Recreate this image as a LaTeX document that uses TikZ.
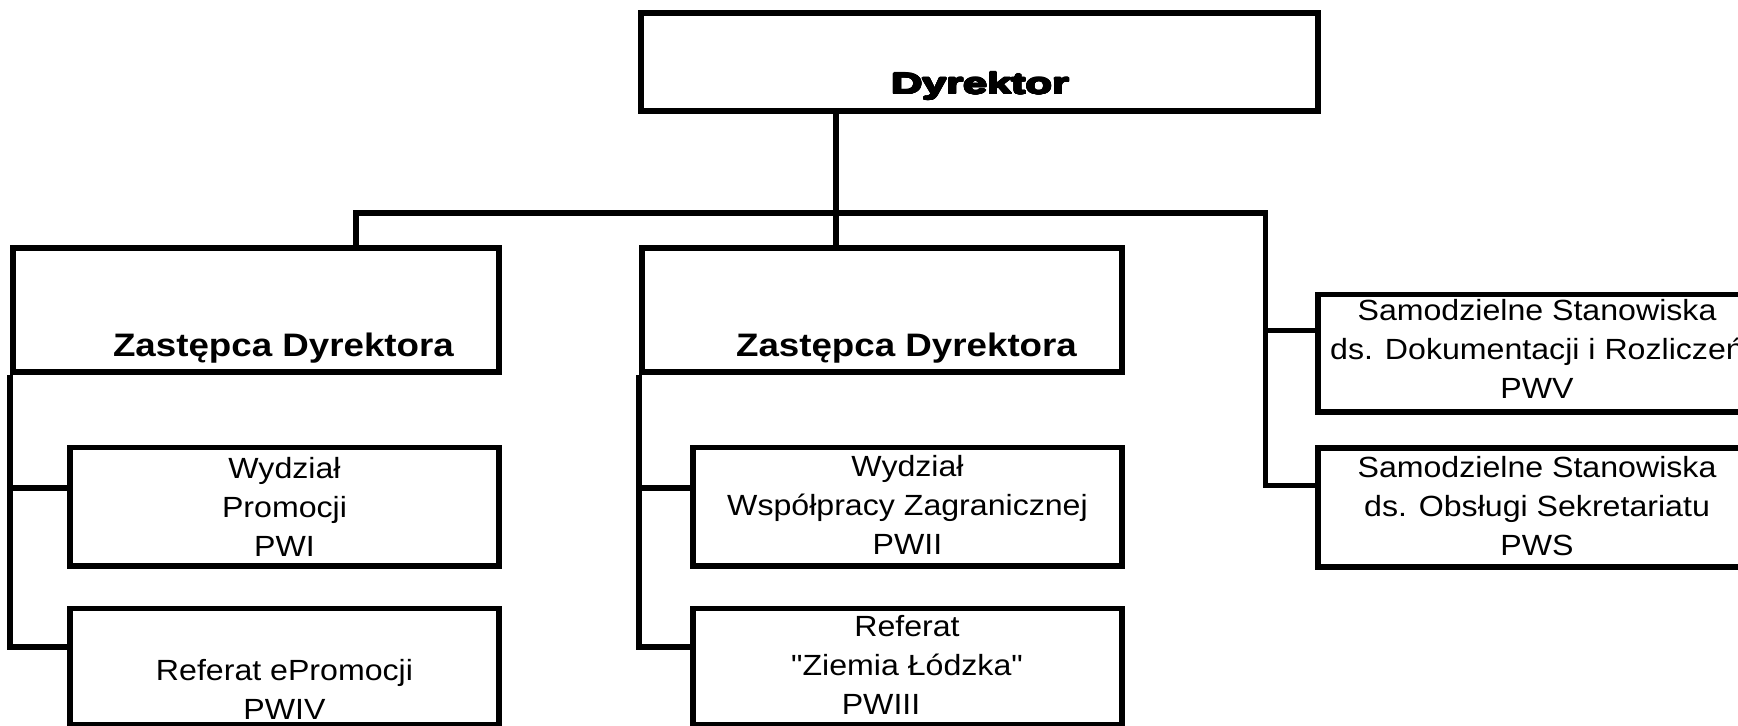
\documentclass[tikz,border=0pt]{standalone}
\usepackage{fontspec}
\usepackage{contour}
\newfontfamily\bodyfont[FakeStretch=1.1]{Liberation Sans}
\newfontfamily\headfont[FakeStretch=1.13]{Liberation Sans}
\newfontfamily\topfont[FakeStretch=1.48]{Liberation Sans}
\contourlength{0.5pt}
\contournumber{24}

\tikzset{
    unit/.style={draw, line width=2.9pt, inner sep=0pt},
    lbl/.style={inner sep=0pt, align=center, font=\bodyfont\fontsize{14.6pt}{19.5pt}\selectfont},
    head/.style={inner sep=0pt, anchor=base, font=\headfont\bfseries\fontsize{16.25pt}{19.5pt}\selectfont},
}

\begin{document}
\begin{tikzpicture}[x=0.5pt, y=-0.5pt, line width=2.9pt]
    \fill[white] (0,0) rectangle (1738,726);
    \clip (0,0) rectangle (1738,726);

    \node[anchor=base, inner sep=0pt, font=\topfont\bfseries\fontsize{14.6pt}{17pt}\selectfont] (dyr-t) at (980,94) {\contour{black}{Dyrektor}};
    \node[head] (zl-t) at (283.5,357) {Zastępca Dyrektora};
    \node[head] (zm-t) at (906.5,357) {Zastępca Dyrektora};
    \node[lbl] (pwi-t) at (284.5,506.8) {Wydział\\Promocji\\PWI};
    \node[lbl] (pwiv-t) at (284.5,689) {Referat ePromocji\\PWIV};
    \node[lbl] (pwii-t) at (907.5,505.3) {Wydział\\Współpracy Zagranicznej\\PWII};
    \node[lbl] (pwiii-t) at (907,665.3) {Referat\\"Ziemia Łódzka"\\PWIII\hspace*{26pt}};
    \node[lbl] (pwv-t) at (1537,349.3) {Samodzielne Stanowiska\\ds. Dokumentacji i Rozliczeń\\PWV};
    \node[lbl] (pws-t) at (1537,506.3) {Samodzielne Stanowiska\\ds. Obsługi Sekretariatu\\PWS};

    \node[unit, minimum width=338.5pt, minimum height=49pt] (dyr) at (979.5,62) {};
    \node[unit, minimum width=243pt, minimum height=62pt] (zl) at (256,310) {};
    \node[unit, minimum width=240pt, minimum height=62pt] (zm) at (882,310) {};
    \node[unit, minimum width=214.5pt, minimum height=59.25pt] (pwi) at (284.5,506.75) {};
    \node[unit, minimum width=214.5pt, minimum height=58.25pt] (pwiv) at (284.5,666.75) {};
    \node[unit, minimum width=214.5pt, minimum height=59.25pt] (pwii) at (907.5,506.75) {};
    \node[unit, minimum width=214.5pt, minimum height=58.25pt] (pwiii) at (907.5,666.75) {};
    \node[unit, minimum width=222pt, minimum height=58.75pt] (pwv) at (1540,353.25) {};
    \node[unit, minimum width=222pt, minimum height=59.5pt] (pws) at (1540,507.5) {};

    \coordinate (trunk) at (836,213);
    \coordinate (busL) at (356,213);
    \coordinate (busR) at (1265.5,213);
    \coordinate (pwi-in) at ([yshift=9.4pt]pwi.west);
    \coordinate (pwiv-in) at ([yshift=9.9pt]pwiv.west);
    \coordinate (pwii-in) at ([yshift=9.4pt]pwii.west);
    \coordinate (pwiii-in) at ([yshift=9.9pt]pwiii.west);
    \coordinate (pwv-in) at ([yshift=11.4pt]pwv.west);
    \coordinate (pws-in) at ([yshift=11pt]pws.west);

    \draw (dyr.south -| trunk) -- (zm.north -| trunk);
    \draw (busL |- zl.north) -- (busL) -- (busR) |- (pws-in);
    \draw (pwv-in -| busR) -- (pwv-in);
    \draw (zl.south west) |- (pwiv-in);
    \draw (pwi-in -| zl.south west) -- (pwi-in);
    \draw (zm.south west) |- (pwiii-in);
    \draw (pwii-in -| zm.south west) -- (pwii-in);
\end{tikzpicture}
\end{document}
